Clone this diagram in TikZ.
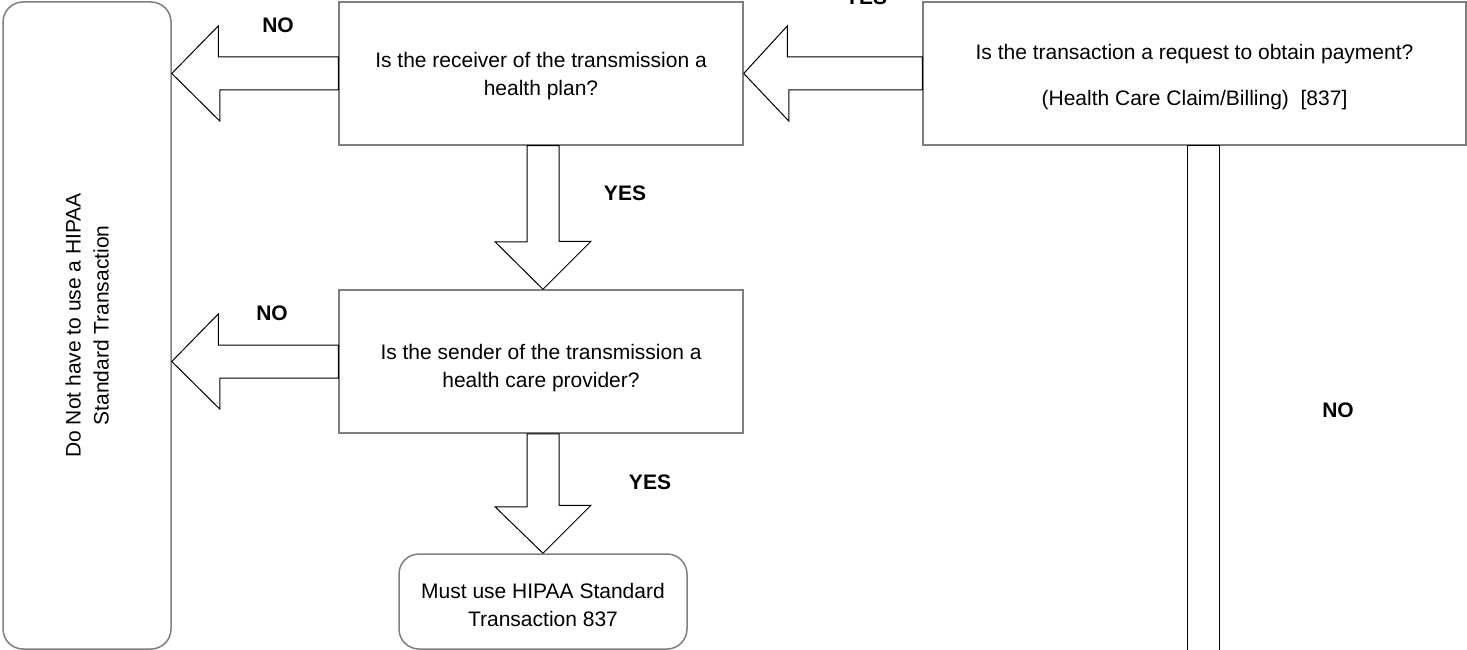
\documentclass[tikz,border=0pt]{standalone}
\usepackage{fontspec}
\setmainfont{Liberation Sans}
\usetikzlibrary{calc}
\definecolor{boxgray}{HTML}{7F7F7F}
\tikzset{
  box/.style={draw=boxgray, line width=1.5pt, fill=white, rectangle, inner sep=0pt},
  rbox/.style={box, rounded corners=20pt},
  btext/.style={align=center, font=\fontsize{21}{28}\selectfont, yshift=-3pt},
  barrow/.style={draw=black, line width=1pt, fill=white, line join=miter},
  lbl/.style={font=\fontsize{21}{25}\selectfont\bfseries, inner sep=0pt},
}
\begin{document}
\begin{tikzpicture}[x=1pt, y=-1pt]
\useasboundingbox (0,0) rectangle (1467,650);
% nodes
\node[rbox, minimum width=168pt, minimum height=647pt,
      label={[align=center, font=\fontsize{21}{28}\selectfont, rotate=90]center:Do Not have to use a HIPAA\\Standard Transaction}]
      (dnh) at (87,325.5) {};
\node[box, minimum width=404pt, minimum height=143pt,
      label={[btext]center:Is the receiver of the transmission a\\health plan?}] (q1) at (541,73.5) {};
\node[box, minimum width=543pt, minimum height=143pt,
      label={[btext, yshift=-1pt]center:Is the transaction a request to obtain payment?\\[18pt](Health Care Claim/Billing)\ \ [837]}]
      (q0) at (1194.5,73.5) {};
\node[box, minimum width=404pt, minimum height=143pt,
      label={[btext, yshift=-4pt]center:Is the sender of the transmission a\\health care provider?}]
      (q2) at (541,361.5) {};
\node[rbox, minimum width=288pt, minimum height=95pt,
      label={[btext]center:Must use HIPAA Standard\\Transaction 837}] (must) at (543,601.5) {};
% block arrows
\draw[barrow] ($(q0.west)+(0,-16.5)$) -- ++(-135,0) -- ++(0,-31) -- (q1.east)
   -- ++(45,47.5) -- ++(0,-31) -- ($(q0.west)+(0,16.5)$) -- cycle;
\draw[barrow] ($(q1.west)+(0,-16.5)$) -- ++(-120,0) -- ++(0,-31) -- (dnh.east |- q1.west)
   -- ++(48,47.5) -- ++(0,-31) -- ($(q1.west)+(0,16.5)$) -- cycle;
\draw[barrow] ($(q2.west)+(0,-16.5)$) -- ++(-120,0) -- ++(0,-31) -- (dnh.east |- q2.west)
   -- ++(48,47.5) -- ++(0,-31) -- ($(q2.west)+(0,16.5)$) -- cycle;
\draw[barrow] ($(q1.south)+(-14,0)$) -- ++(0,96) -- ++(-32,0) -- ($(q2.north)+(2,0)$)
   -- ++(48,-48) -- ++(-32,0) -- ($(q1.south)+(18,0)$) -- cycle;
\draw[barrow] ($(q2.south)+(-14,0)$) -- ++(0,73) -- ++(-32,0) -- (must.north)
   -- ++(48,-48) -- ++(-32,0) -- ($(q2.south)+(18,0)$) -- cycle;
\coordinate (sl) at ($(q0.south)+(-7.5,0)$);
\coordinate (sr) at ($(q0.south)+(24.5,0)$);
\coordinate (shaftend) at (1203,680);
\draw[barrow, fill=none] (sl |- shaftend) -- (sl) -- (sr) -- (sr |- shaftend);
% labels
\node[lbl] (no1) at (278,25) {NO};
\node[lbl] (no2) at (272,313) {NO};
\node[lbl] (yes1) at (625,193) {YES};
\node[lbl] (yes2) at (650,482) {YES};
\node[lbl] (no3) at (1338,410) {NO};
\node[lbl] (yes0) at (866,-3) {YES};
\end{tikzpicture}
\end{document}
